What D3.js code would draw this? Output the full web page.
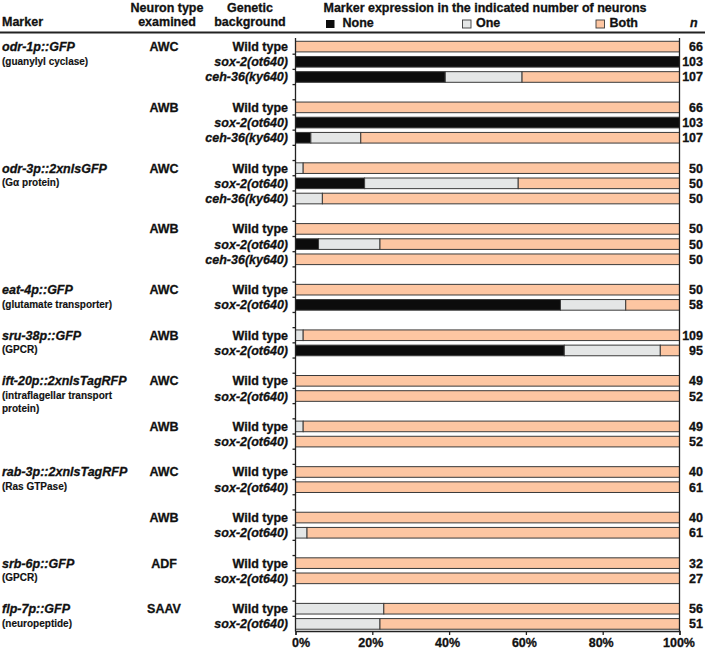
<!DOCTYPE html>
<html>
<head>
<meta charset="utf-8">
<script src="https://cdn.jsdelivr.net/npm/d3@7"></script>
<style>
  html, body { margin: 0; padding: 0; background: #fff; }
  svg { display: block; }
  text { font-family: "Liberation Sans", Arial, Helvetica, sans-serif; font-weight: bold; fill: #111; stroke: #111; stroke-width: 0.3px; }
</style>
</head>
<body>
<svg id="chart" width="705" height="651"></svg>
<script>
// ---------- DATA ----------
const groupMarker = ["odr-1p::GFP", "", "odr-3p::2xnlsGFP", "", "eat-4p::GFP", "sru-38p::GFP",
                     "ift-20p::2xnlsTagRFP", "", "rab-3p::2xnlsTagRFP", "", "srb-6p::GFP", "flp-7p::GFP"];
const groupDesc = [["(guanylyl cyclase)"], [], ["(G\u03b1 protein)"], [], ["(glutamate transporter)"], ["(GPCR)"],
                   ["(intraflagellar transport", "protein)"], [], ["(Ras GTPase)"], [], ["(GPCR)"], ["(neuropeptide)"]];
const groupNeuron = ["AWC", "AWB", "AWC", "AWB", "AWC", "AWB", "AWC", "AWB", "AWC", "AWB", "ADF", "SAAV"];

const barGroup = [0,0,0, 1,1,1, 2,2,2, 3,3,3, 4,4, 5,5, 6,6, 7,7, 8,8, 9,9, 10,10, 11,11];
const backgrounds = ["Wild type","sox-2(ot640)","ceh-36(ky640)",
                     "Wild type","sox-2(ot640)","ceh-36(ky640)",
                     "Wild type","sox-2(ot640)","ceh-36(ky640)",
                     "Wild type","sox-2(ot640)","ceh-36(ky640)",
                     "Wild type","sox-2(ot640)",
                     "Wild type","sox-2(ot640)",
                     "Wild type","sox-2(ot640)",
                     "Wild type","sox-2(ot640)",
                     "Wild type","sox-2(ot640)",
                     "Wild type","sox-2(ot640)",
                     "Wild type","sox-2(ot640)",
                     "Wild type","sox-2(ot640)"];
const noneVals = [0,100,39, 0,100,4, 0,18,0, 0,6,0, 0,69, 0,70, 0,0, 0,0, 0,0, 0,0, 0,0, 0,0];
const oneVals  = [0,0,20,   0,0,13,  2,40,7, 0,16,0, 0,17, 2,25, 0,0, 2,0, 0,0, 0,3, 0,0, 23,22];
const bothVals = [100,0,41, 100,0,83, 98,42,93, 100,78,100, 100,14, 98,5, 100,100, 98,100, 100,100, 100,97, 100,100, 77,78];
const nVals    = [66,103,107, 66,103,107, 50,50,50, 50,50,50, 50,58, 109,95, 49,52, 49,52, 40,61, 40,61, 32,27, 56,51];

const categories = ["None", "One", "Both"];
const catColors = ["#0c0c0c", "#e4e6e6", "#fdc6a2"];
const xTicks = [0, 20, 40, 60, 80, 100];

// ---------- LAYOUT ----------
const svg = d3.select("#chart");
const ink = "#222";
const strokeC = "#3a3a3a";

// Build row keys (bars with blank separators between groups)
const rowKeys = [];
barGroup.forEach((g, i) => {
  if (i > 0 && barGroup[i - 1] !== g) rowKeys.push("gap" + g);
  rowKeys.push("bar" + i);
});

const x = d3.scaleLinear().domain([0, 100]).range([295.5, 679.5]);
const y = d3.scaleBand().domain(rowKeys).range([39, 631.5]).paddingInner(0.3).paddingOuter(0.15);
const step = y.step();
const y0 = 39;

// ---------- HEADER ----------
const hdr = svg.append("g").attr("font-size", 12.5);
hdr.append("text").attr("x", 2).attr("y", 26).text("Marker");
hdr.append("text").attr("x", 167).attr("y", 12).attr("text-anchor", "middle").text("Neuron type");
hdr.append("text").attr("x", 167).attr("y", 26).attr("text-anchor", "middle").text("examined");
hdr.append("text").attr("x", 250).attr("y", 12).attr("text-anchor", "middle").text("Genetic");
hdr.append("text").attr("x", 250).attr("y", 26).attr("text-anchor", "middle").text("background");
hdr.append("text").attr("x", 485).attr("y", 12).attr("text-anchor", "middle").text("Marker expression in the indicated number of neurons");
hdr.append("text").attr("x", 690).attr("y", 27).attr("font-style", "italic").text("n");

const legX = [326, 462.5, 596];
categories.forEach((c, i) => {
  hdr.append("rect").attr("x", legX[i]).attr("y", 20).attr("width", 8.5).attr("height", 8)
    .attr("fill", catColors[i]).attr("stroke", i === 0 ? "none" : strokeC).attr("stroke-width", 0.9);
  hdr.append("text").attr("x", legX[i] + 16.5 - (i === 0 ? 0 : 3)).attr("y", 27).text(c);
});

svg.append("line").attr("x1", 0).attr("x2", 705).attr("y1", 32.5).attr("y2", 32.5)
  .attr("stroke", ink).attr("stroke-width", 2);

// ---------- BARS ----------
const barsG = svg.append("g");
barGroup.forEach((g, i) => {
  const vals = [noneVals[i], oneVals[i], bothVals[i]];
  let acc = 0;
  vals.forEach((v, k) => {
    if (v > 0) {
      barsG.append("rect")
        .attr("x", x(acc)).attr("y", y("bar" + i))
        .attr("width", x(acc + v) - x(acc)).attr("height", y.bandwidth())
        .attr("fill", catColors[k]).attr("stroke", strokeC).attr("stroke-width", 1);
    }
    acc += v;
  });
});

// ---------- AXES ----------
const axG = svg.append("g").attr("stroke", ink).attr("stroke-width", 1.3);
axG.append("line").attr("x1", x(0)).attr("x2", x(0)).attr("y1", 38).attr("y2", 631.5);
axG.append("line").attr("x1", x(100)).attr("x2", x(100)).attr("y1", 38).attr("y2", 631.5);
for (let k = 1; k < rowKeys.length; k++) {
  axG.append("line").attr("x1", x(0) - 3).attr("x2", x(0)).attr("y1", y0 + k * step).attr("y2", y0 + k * step);
}

const xAxis = d3.axisBottom(x).tickValues(xTicks).tickFormat(d => d + "%").tickSize(4).tickPadding(3);
const xg = svg.append("g").attr("transform", "translate(0,631)").call(xAxis);
xg.select(".domain").attr("stroke", ink).attr("stroke-width", 1.3);
xg.selectAll(".tick line").attr("stroke", ink).attr("stroke-width", 1.3);
xg.selectAll(".tick text").attr("font-size", 12.5).attr("fill", "#111")
  .attr("font-family", "'Liberation Sans', Arial, sans-serif").attr("font-weight", "bold")
  .attr("dx", (d, i) => i === 0 ? 5 : (i === xTicks.length - 1 ? -1 : -2));

// ---------- ROW LABELS ----------
const lab = svg.append("g").attr("font-size", 12.5);
barGroup.forEach((g, i) => {
  const cy = y("bar" + i) + y.bandwidth() / 2;
  lab.append("text").attr("x", 288).attr("y", cy + 4.5).attr("text-anchor", "end")
    .attr("font-style", backgrounds[i] === "Wild type" ? "normal" : "italic")
    .text(backgrounds[i]);
  lab.append("text").attr("x", 703).attr("y", cy + 4.5).attr("text-anchor", "end").text(nVals[i]);
});

groupNeuron.forEach((nt, g) => {
  const first = barGroup.indexOf(g);
  const cy = y("bar" + first) + y.bandwidth() / 2;
  lab.append("text").attr("x", 164).attr("y", cy + 4.5).attr("text-anchor", "middle").text(nt);
  if (groupMarker[g]) {
    lab.append("text").attr("x", 2).attr("y", cy + 4.5).attr("font-style", "italic").text(groupMarker[g]);
    const cy2 = y("bar" + (first + 1)) + y.bandwidth() / 2;
    groupDesc[g].forEach((line, j) => {
      lab.append("text").attr("x", 2).attr("y", cy2 + 3 + j * 13).attr("font-size", 10)
        .style("stroke-width", "0.15px").text(line);
    });
  }
});
</script>
</body>
</html>
